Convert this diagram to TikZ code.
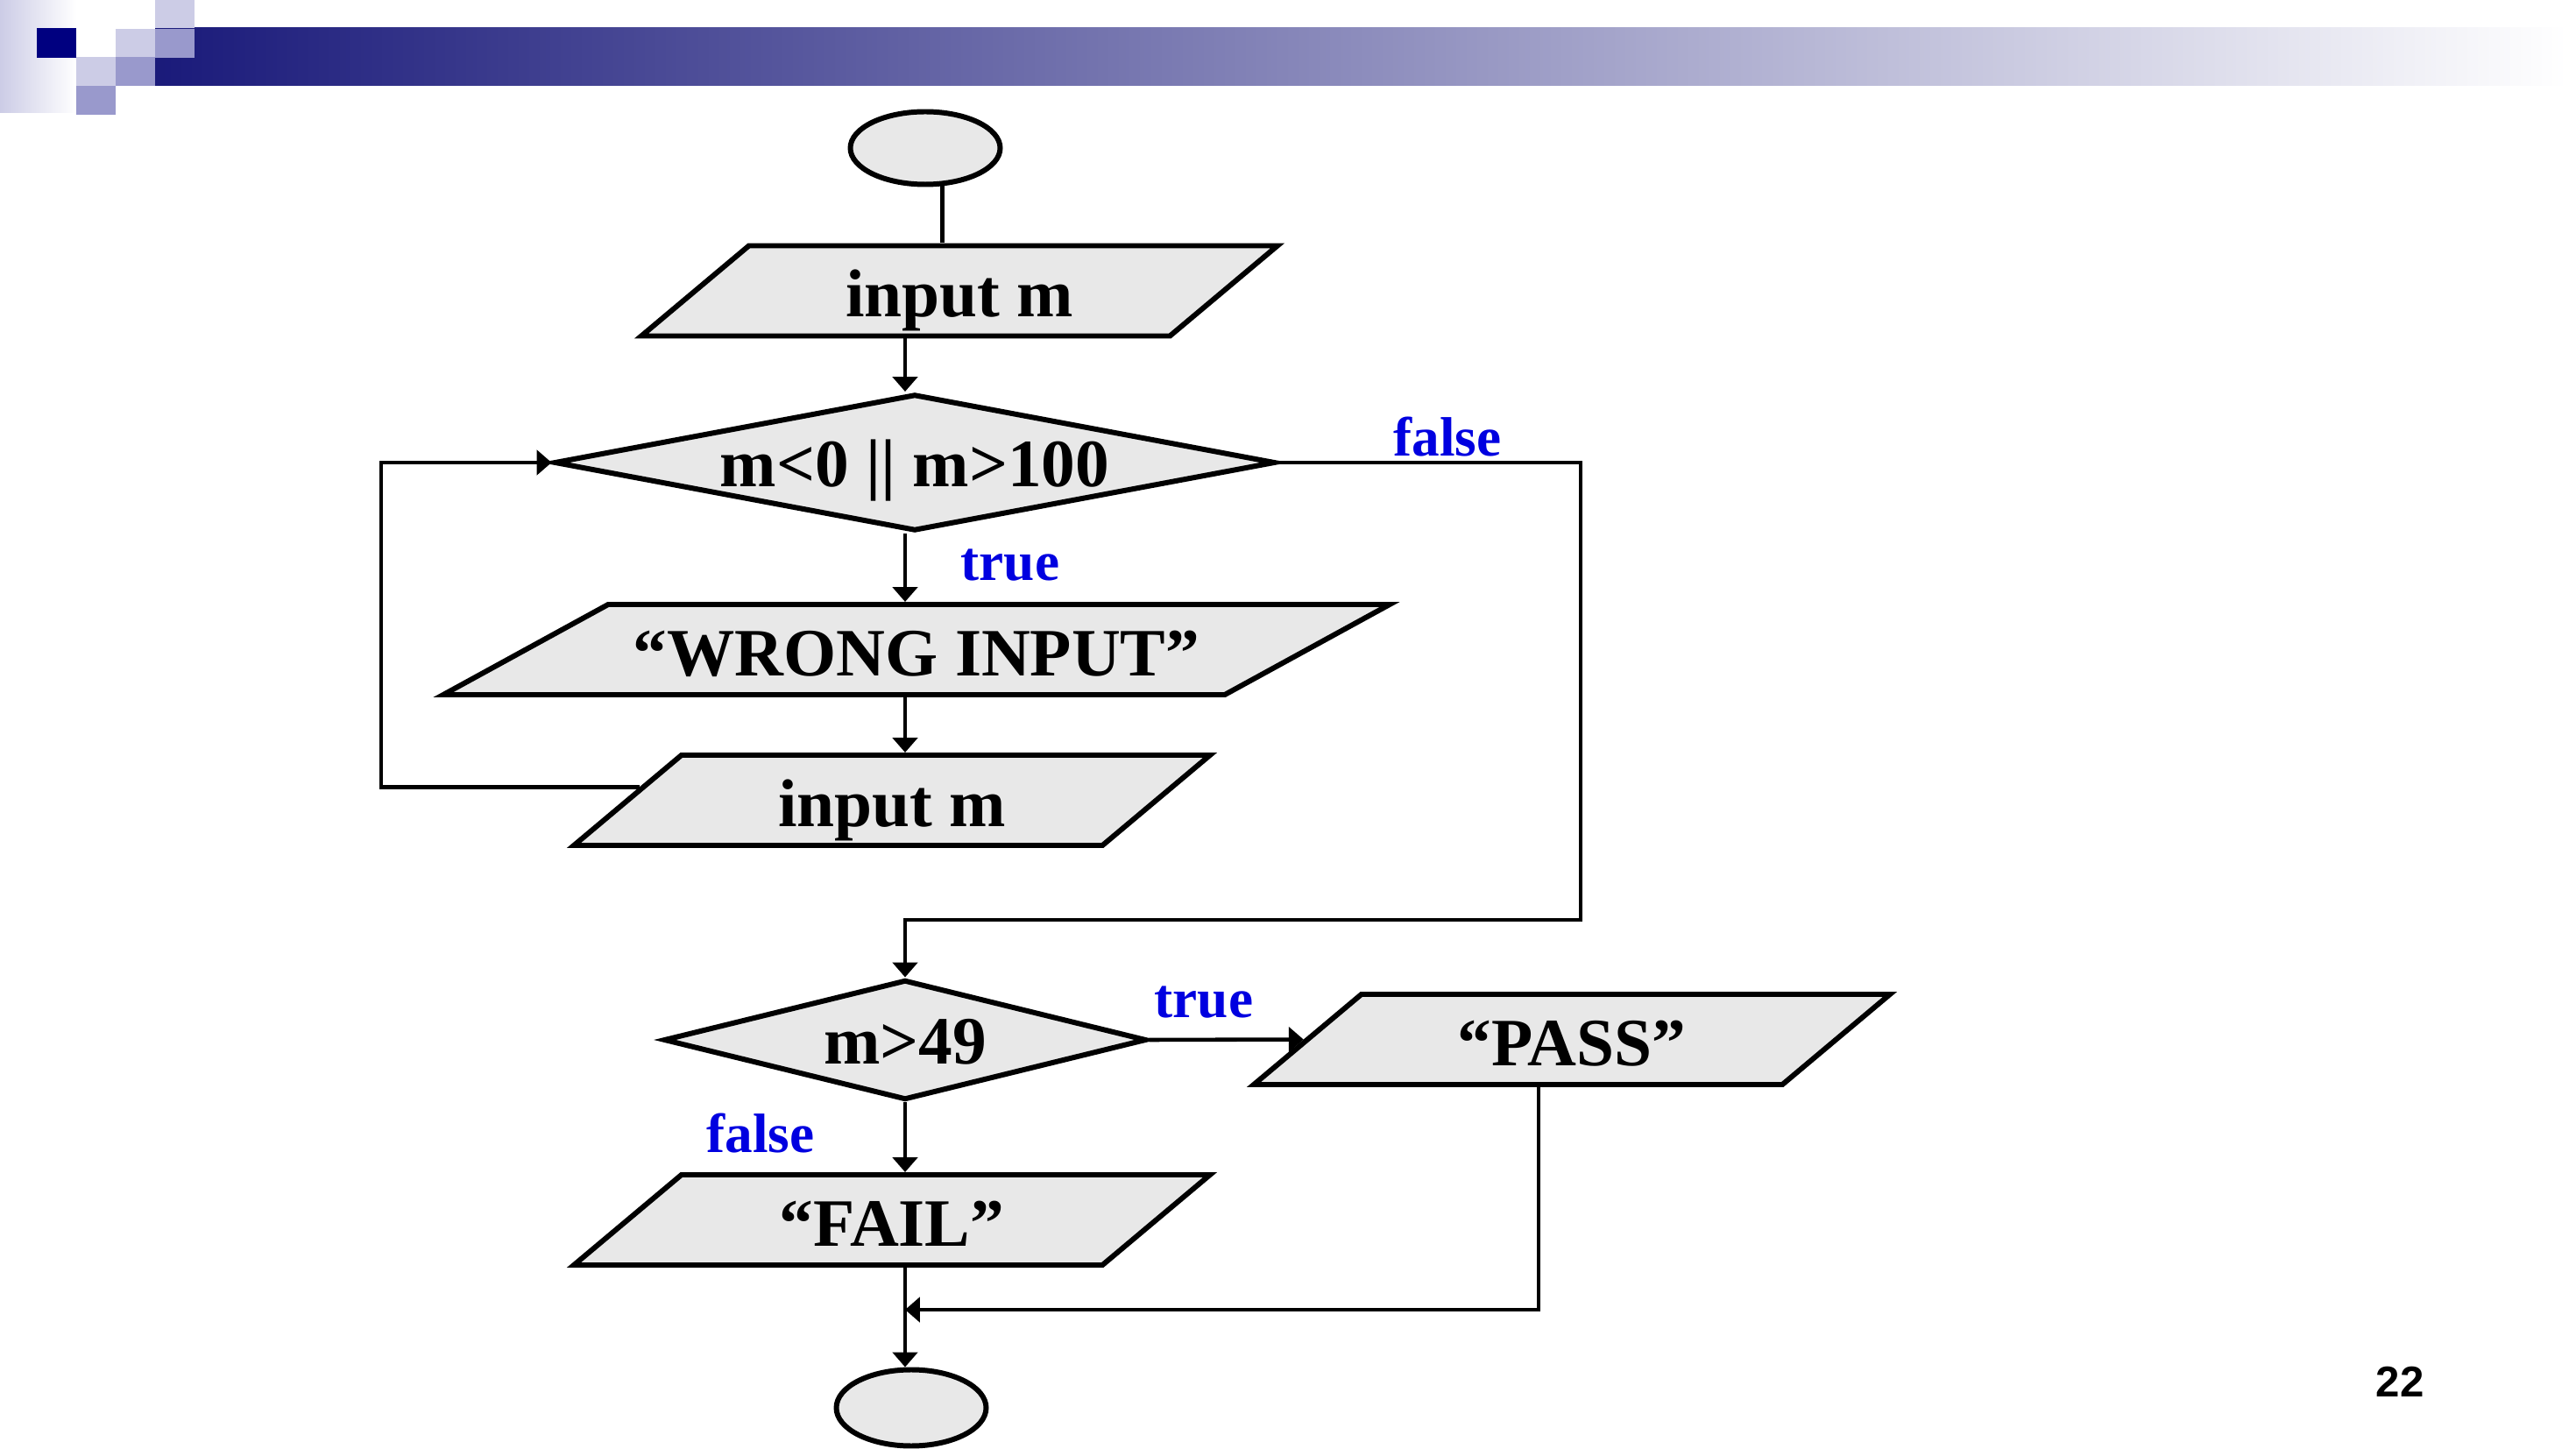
\documentclass[tikz,border=0pt]{standalone}
\usepackage{fontspec}
\setmainfont{Liberation Serif}
\newfontfamily\pagefont{Liberation Sans}
\usepackage{tikz}
\usetikzlibrary{arrows.meta,shapes.geometric}
\definecolor{slidenavy}{HTML}{000080}
\definecolor{slidebar}{HTML}{1A1A7A}
\definecolor{slidelight}{HTML}{CCCCE6}
\definecolor{slidemid}{HTML}{9999CC}
\definecolor{shapefill}{HTML}{E8E8E8}
\definecolor{labelblue}{HTML}{0000E0}

\tikzset{
    box/.style={draw, line width=1.7pt, fill=shapefill, font=\fontsize{22}{26}\selectfont\bfseries},
    iobox/.style={box, trapezium, trapezium left angle=40, trapezium right angle=140,
        trapezium stretches body, minimum width=7.26cm, minimum height=1.03cm,
        text height=0.65cm, text depth=0.05cm, inner xsep=0pt, inner ysep=0.165cm},
    decision/.style={box, diamond, inner sep=0pt, text height=0.6cm, text depth=0.04cm},
    terminal/.style={draw, line width=1.7pt, fill=shapefill, ellipse, minimum width=1.71cm, minimum height=0.83cm},
    flow/.style={line width=1.3pt, -{Triangle[length=4.8pt,width=8pt]}},
    tag/.style={font=\fontsize{18}{22}\selectfont\bfseries, text=labelblue},
}

\begin{document}
\begin{tikzpicture}
    % Page
    \fill[white] (0,0) rectangle (29.4,16.53);
    \useasboundingbox (0,0) rectangle (29.4,16.53);

    % Header band
    \shade[left color=slidelight, right color=white] (0,16.53) rectangle (0.87,15.24);
    \shade[left color=slidebar, right color=white] (1.77,16.21) rectangle (29.3,15.55);
    \fill[slidenavy] (0.42,16.21) rectangle (0.87,15.87);
    \foreach \x/\y/\c in {1.77/16.21/slidelight, 1.77/15.87/slidemid, 1.32/15.87/slidelight,
                         0.87/15.55/slidelight, 1.32/15.55/slidemid, 0.87/15.22/slidemid} {
        \fill[\c] (\x,\y) rectangle (\x+0.45,\y+0.33);
    }

    % Flowchart shapes
    \node[terminal] (start) at (10.56,14.84) {};
    \node[iobox] (inp1) at (10.95,13.21) {input m};
    \node[decision, aspect=5.3, minimum width=8.23cm, minimum height=1.56cm] (d1) at (10.44,11.25) {m<0 || m>100};
    \node[iobox, trapezium left angle=28.7, trapezium right angle=151.3, minimum width=10.80cm] (wrong) at (10.46,9.115) {“WRONG INPUT”};
    \node[iobox] (inp2) at (10.18,7.395) {input m};
    \node[decision, aspect=4, minimum width=5.51cm, minimum height=1.37cm] (d2) at (10.33,4.66) {m>49};
    \node[iobox] (pass) at (17.94,4.665) {“PASS”};
    \node[iobox] (fail) at (10.18,2.605) {“FAIL”};
    \node[terminal, minimum height=0.87cm] (stop) at (10.40,0.46) {};

    % Branch labels
    \node[tag] (f1) at (16.52,11.54) {false};
    \node[tag] (t1) at (11.53,10.08) {true};
    \node[tag] (t2) at (13.74,5.09) {true};
    \node[tag] (f2) at (8.68,3.59) {false};

    % Bends
    \coordinate (spine) at (10.33,0);
    \coordinate (lp) at (4.35,9);
    \coordinate (fr) at (18.04,6.03);
    \coordinate (mg) at (17.56,1.58);

    % Connectors
    \draw[line width=1.3pt] (start.-66) -- (start.-66 |- inp1.north);
    \draw[flow] (spine |- inp1.south) -- (spine |- d1.north);
    \draw[flow] (spine |- d1.south) -- (spine |- wrong.north);
    \draw[flow] (spine |- wrong.south) -- (spine |- inp2.north);
    \draw[flow] (inp2.177) -| (lp) |- (d1.west);
    \draw[flow] (d1.east) -| (fr) -| (spine |- d2.north);
    \draw[flow] (d2.east) -- (pass.west);
    \draw[flow] (spine |- d2.south) -- (spine |- fail.north);
    \draw[flow] (spine |- fail.south) -- (spine |- stop.north);
    \draw[flow] (mg |- pass.south) -- (mg) -- (mg -| spine);

    % Page number
    \node[font=\pagefont\bfseries\fontsize{14}{16}\selectfont] (pgnum) at (27.39,0.76) {22};
\end{tikzpicture}
\end{document}
